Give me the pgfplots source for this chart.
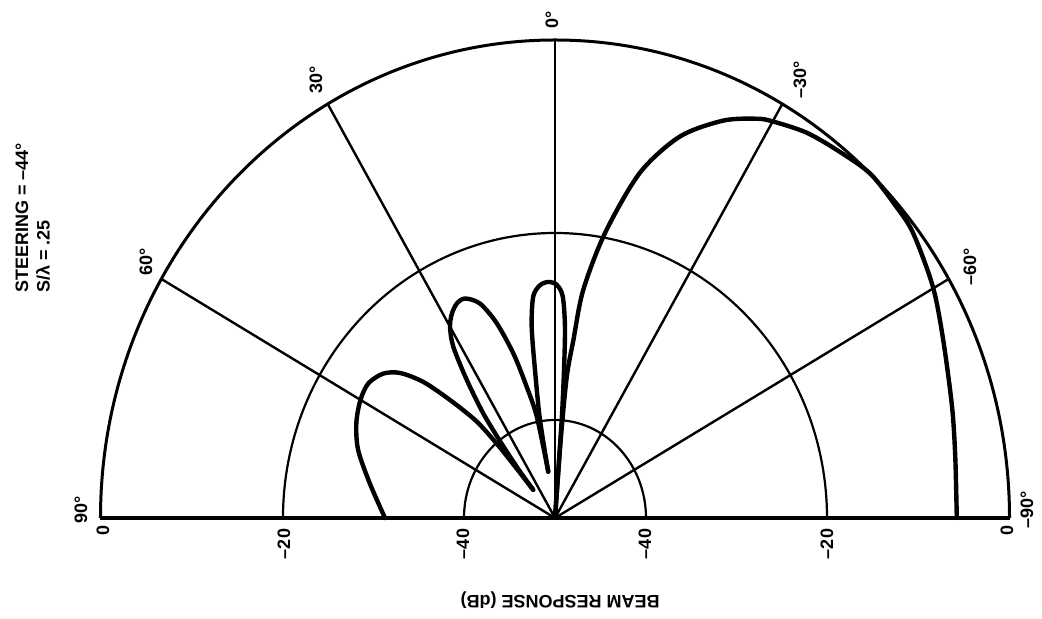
\documentclass[border=0pt]{standalone}
\usepackage{fontspec}
\setmainfont{Liberation Sans}
\usepackage{pgfplots}
\usepackage{pgfplotstable}
\pgfplotsset{compat=1.18}

% Beam response: bearing (deg, positive to the left of broadside) and level (dB)
\pgfplotstableread{
ang    db
-4.3   -49.5
-4.4   -41.8
-5.0   -35.2
-6.2   -31.3
-7.4   -26.0
-10.45 -19.7
-14.5  -12.7
-19.0  -7.8
-24.0  -4.5
-28.0  -2.7
-30.0  -2.1
-34.5  -1.1
-39.4  -0.5
-44.0   0.0
-49.1  -0.3
-52.9  -0.6
-59.8  -1.9
-66.4  -3.4
-75.1  -4.8
-81.7  -5.5
-90.0  -5.8
}\mainlobe

\pgfplotstableread{
ang    db
8.7   -45.1
9.15  -39.6
8.1   -34.4
7.3   -29.8
5.9   -26.7
3.87  -25.6
1.7   -25.3
-0.45 -25.6
-2.1  -26.8
-3.15 -30.0
-3.66 -34.5
-4.1  -39.7
-4.3  -49.5
}\lobeA

\pgfplotstableread{
ang    db
39.2  -46.2
38.3  -43.5
37.0  -40.1
35.8  -36.5
33.9  -32.6
32.0  -28.9
30.0  -26.9
27.95 -25.8
25.7  -25.1
23.3  -25.0
20.2  -26.1
17.5  -28.6
14.9  -32.2
12.8  -35.9
10.7  -39.2
8.7   -45.1
}\lobeB

\pgfplotstableread{
ang    db
90.0  -31.3
79.9  -29.3
71.8  -27.2
65.6  -26.0
60.1  -25.3
55.6  -25.1
51.4  -25.8
48.3  -27.2
45.5  -29.7
43.1  -33.1
40.5  -36.7
39.5  -40.0
39.2  -43.0
39.2  -46.2
}\lobeC

\pgfplotsset{
  beam/.style={black, line width=2.2pt, smooth, no markers, line join=round, line cap=round},
}

\begin{document}
\begin{tikzpicture}[font=\fontsize{9}{10}\selectfont\bfseries]
\useasboundingbox (-277.5pt,-50.5pt) rectangle (243.5pt,259pt);

% range rings: 0, -20 and -40 dB
\draw[line width=1.5pt] (227.25pt,0) arc[start angle=0,end angle=180,x radius=227.25pt,y radius=239pt];
\draw[line width=1.1pt] (136pt,0) arc[start angle=0,end angle=180,x radius=136pt,y radius=142.5pt];
\draw[line width=1.1pt] (45.5pt,0) arc[start angle=0,end angle=180,x radius=45.5pt,y radius=49pt];

% bearing spokes
\foreach \a in {-60,-30,0,30,60}
  \draw[line width=1.2pt] (0,0) -- ({-227.25pt*sin(\a)},{239pt*cos(\a)});
\draw[line width=2pt] (-227.25pt,0) -- (227.25pt,0);

\begin{axis}[
  anchor=origin, at={(0,0)},
  x=4.545pt, y=4.78pt,
  xmin=-50, xmax=50, ymin=0, ymax=50,
  hide axis, clip=false,
]
\addplot[beam] table[x expr={-(\thisrow{db}+50)*sin(\thisrow{ang})},
                     y expr={(\thisrow{db}+50)*cos(\thisrow{ang})}] {\mainlobe};
\addplot[beam] table[x expr={-(\thisrow{db}+50)*sin(\thisrow{ang})},
                     y expr={(\thisrow{db}+50)*cos(\thisrow{ang})}] {\lobeA};
\addplot[beam] table[x expr={-(\thisrow{db}+50)*sin(\thisrow{ang})},
                     y expr={(\thisrow{db}+50)*cos(\thisrow{ang})}] {\lobeB};
\addplot[beam] table[x expr={-(\thisrow{db}+50)*sin(\thisrow{ang})},
                     y expr={(\thisrow{db}+50)*cos(\thisrow{ang})}] {\lobeC};
\end{axis}

% bearing labels
\node[rotate=90] at (-1.5pt,249pt) {0°};
\node[rotate=90] at (-119.5pt,219pt) {30°};
\node[rotate=90] at (122.5pt,219pt) {–30°};
\node[rotate=90] at (-204.5pt,128pt) {60°};
\node[rotate=90] at (207.5pt,125.5pt) {–60°};
\node[rotate=90] at (-237pt,4pt) {90°};
\node[rotate=90] at (236pt,4pt) {–90°};

% level labels
\node[rotate=90] at (-226pt,-6pt) {0};
\node[rotate=90] at (-135.5pt,-13pt) {–20};
\node[rotate=90] at (-46pt,-13pt) {–40};
\node[rotate=90] at (45pt,-13pt) {–40};
\node[rotate=90] at (136pt,-13pt) {–20};
\node[rotate=90] at (226pt,-6pt) {0};

\node[rotate=180] at (2.5pt,-41pt) {BEAM RESPONSE (dB)};

\node[rotate=90,anchor=west] at (-266.5pt,109pt) {STEERING = –44°};
\node[rotate=90,anchor=west] at (-256pt,109pt) {S/λ = .25};
\end{tikzpicture}
\end{document}
